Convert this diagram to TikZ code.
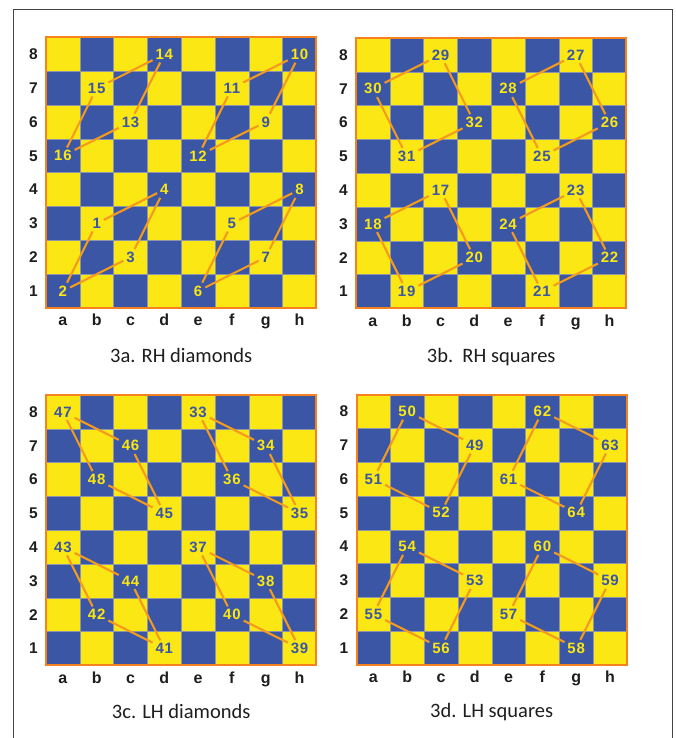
\documentclass[tikz,border=0pt]{standalone}
\usepackage{fontspec}
\setmainfont{Liberation Sans}
\newfontfamily\capfont{Carlito}
\newfontfamily\numfont[LetterSpace=5]{Liberation Sans}
\definecolor{bblue}{HTML}{3A56A4}
\definecolor{byel}{HTML}{FBE713}
\definecolor{bor}{HTML}{F39A1F}
\definecolor{bedge}{HTML}{F5821F}
\definecolor{gridc}{HTML}{8E95A8}
\definecolor{framec}{HTML}{444444}
\definecolor{labc}{HTML}{1E1E1E}
\newcommand\sqs{33.8}
\tikzset{
  num/.style={font=\numfont\bfseries\fontsize{15}{16}\selectfont, inner sep=2.8pt},
  tb/.style={num, text=bblue},
  ty/.style={num, text=byel},
  link/.style={draw=bor, line width=2.1pt},
  rankl/.style={font=\bfseries\fontsize{15.5}{16}\selectfont, text=labc},
  filel/.style={font=\bfseries\fontsize{16}{17}\selectfont, text=labc, anchor=base},
  capt/.style={font=\capfont\fontsize{20.5}{22}\selectfont, text=labc, anchor=base},
  frameline/.style={draw=framec, line width=1.3pt},
}
\newcommand\pc[4]{\node[#4] (n#3) at ({(#1+0.5)*\sqs},{(8.5-#2)*\sqs}) {#3};}
\newcommand\drawboard[1]{%
  \fill[byel] (0,0) rectangle ({8*\sqs},{8*\sqs});
  \foreach \i in {0,...,7}{
    \foreach \j in {0,...,7}{
      \pgfmathtruncatemacro\pp{mod(\i+\j,2)}
      \ifnum\pp=1 \fill[bblue] ({\i*\sqs},{\j*\sqs}) rectangle ++(\sqs,\sqs);\fi
    }}
  \foreach \k in {1,...,7}{
    \draw[gridc, line width=0.4pt] ({\k*\sqs},0) -- ({\k*\sqs},{8*\sqs});
    \draw[gridc, line width=0.4pt] (0,{\k*\sqs}) -- ({8*\sqs},{\k*\sqs});
  }
  \draw[bedge, line width=2pt] (0,0) rectangle ({8*\sqs},{8*\sqs});
  \foreach \r [count=\j from 0] in {8,7,6,5,4,3,2,1}{
    \node[rankl] (r#1\r) at (-12.5,{(\j+0.5)*\sqs}) {\r};
  }
  \foreach \f [count=\i from 0] in {a,b,c,d,e,f,g,h}{
    \node[filel] (f#1\f) at ({(\i+0.5)*\sqs},{8*\sqs+18}) {\f};
  }
}
\begin{document}
\begin{tikzpicture}[x=1pt,y=-1pt]
\useasboundingbox (0,0) rectangle (675,738);
\fill[white] (0,0) rectangle (675,738);
\draw[frameline] (13.5,738) -- (13.5,9.5) -- (672.5,9.5) -- (672.5,738);
% board 3a
\begin{scope}[shift={(46,37.5)}]
\drawboard{A}
\node[capt] (capA) at ({4*\sqs},{8*\sqs+55}) {3a. RH diamonds};
\pc{1}{3}{1}{tb}
\pc{0}{1}{2}{ty}
\pc{2}{2}{3}{tb}
\pc{3}{4}{4}{ty}
\pc{5}{3}{5}{tb}
\pc{4}{1}{6}{ty}
\pc{6}{2}{7}{tb}
\pc{7}{4}{8}{ty}
\pc{6}{6}{9}{tb}
\pc{7}{8}{10}{ty}
\pc{5}{7}{11}{tb}
\pc{4}{5}{12}{ty}
\pc{2}{6}{13}{tb}
\pc{3}{8}{14}{ty}
\pc{1}{7}{15}{tb}
\pc{0}{5}{16}{ty}
\end{scope}
% board 3b
\begin{scope}[shift={(356,38)}]
\drawboard{B}
\node[capt] (capB) at ({4*\sqs},{8*\sqs+54}) {3b.\hspace{0.45em}RH squares};
\pc{2}{4}{17}{tb}
\pc{0}{3}{18}{ty}
\pc{1}{1}{19}{tb}
\pc{3}{2}{20}{ty}
\pc{5}{1}{21}{tb}
\pc{7}{2}{22}{ty}
\pc{6}{4}{23}{tb}
\pc{4}{3}{24}{ty}
\pc{5}{5}{25}{tb}
\pc{7}{6}{26}{ty}
\pc{6}{8}{27}{tb}
\pc{4}{7}{28}{ty}
\pc{2}{8}{29}{tb}
\pc{0}{7}{30}{ty}
\pc{1}{5}{31}{tb}
\pc{3}{6}{32}{ty}
\end{scope}
% board 3c
\begin{scope}[shift={(46,395)}]
\drawboard{C}
\node[capt] (capC) at ({4*\sqs},{8*\sqs+53}) {3c. LH diamonds};
\pc{4}{8}{33}{tb}
\pc{6}{7}{34}{ty}
\pc{7}{5}{35}{tb}
\pc{5}{6}{36}{ty}
\pc{4}{4}{37}{tb}
\pc{6}{3}{38}{ty}
\pc{7}{1}{39}{tb}
\pc{5}{2}{40}{ty}
\pc{3}{1}{41}{tb}
\pc{1}{2}{42}{ty}
\pc{0}{4}{43}{tb}
\pc{2}{3}{44}{ty}
\pc{3}{5}{45}{tb}
\pc{2}{7}{46}{ty}
\pc{0}{8}{47}{tb}
\pc{1}{6}{48}{ty}
\end{scope}
% board 3d
\begin{scope}[shift={(356.5,394.5)}]
\drawboard{D}
\node[capt] (capD) at ({4*\sqs},{8*\sqs+53}) {3d. LH squares};
\pc{3}{7}{49}{tb}
\pc{1}{8}{50}{ty}
\pc{0}{6}{51}{tb}
\pc{2}{5}{52}{ty}
\pc{3}{3}{53}{tb}
\pc{1}{4}{54}{ty}
\pc{0}{2}{55}{tb}
\pc{2}{1}{56}{ty}
\pc{4}{2}{57}{tb}
\pc{6}{1}{58}{ty}
\pc{7}{3}{59}{tb}
\pc{5}{4}{60}{ty}
\pc{4}{6}{61}{tb}
\pc{5}{8}{62}{ty}
\pc{7}{7}{63}{tb}
\pc{6}{5}{64}{ty}
\end{scope}
% connectors
\foreach \g in {1,5,...,61}{
  \pgfmathtruncatemacro\ga{\g+1}
  \pgfmathtruncatemacro\gb{\g+2}
  \pgfmathtruncatemacro\gc{\g+3}
  \draw[link] (n\g) -- (n\ga) (n\ga) -- (n\gb) (n\gb) -- (n\gc) (n\gc) -- (n\g);
}
\end{tikzpicture}
\end{document}
